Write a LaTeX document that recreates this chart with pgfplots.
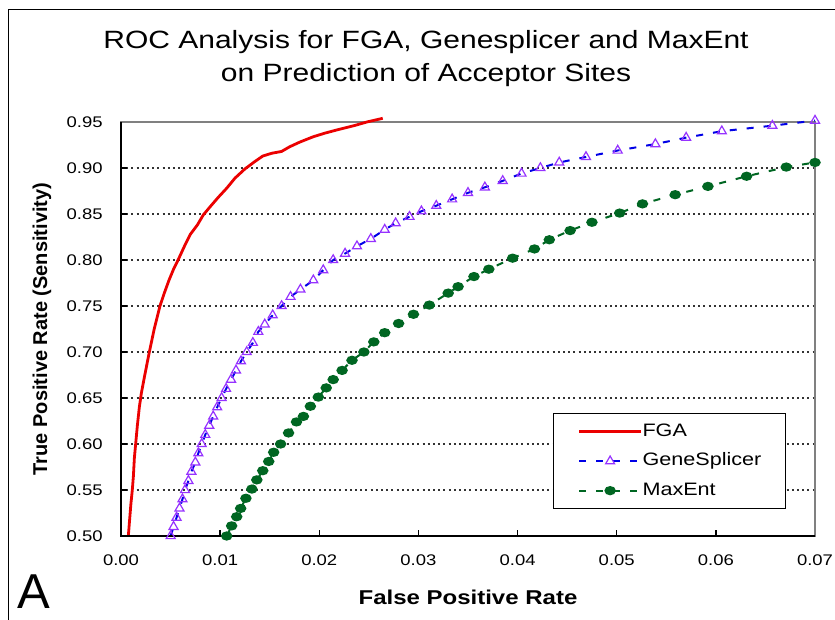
\documentclass[border=0pt]{standalone}
\usepackage{pgfplots}
\pgfplotsset{compat=1.18}
\usepackage{pgfplotstable}
\usepackage{fontspec}
\setmainfont{Liberation Sans}[FakeStretch=1.2]
\newfontfamily\plainsans{Liberation Sans}

\definecolor{fgared}{RGB}{235,0,0}
\definecolor{gsblue}{RGB}{0,0,230}
\definecolor{gspurple}{RGB}{150,50,255}
\definecolor{megreen}{RGB}{0,102,34}
\definecolor{boxgray}{RGB}{128,128,128}

\pgfplotstableread{
x y
0.00074 0.500
0.00085 0.515
0.00100 0.535
0.00114 0.550
0.00125 0.565
0.00135 0.585
0.00148 0.600
0.00165 0.620
0.00185 0.640
0.00205 0.655
0.00240 0.675
0.00286 0.700
0.00335 0.725
0.00393 0.750
0.00440 0.765
0.00484 0.778
0.00530 0.790
0.00580 0.801
0.00640 0.815
0.00700 0.828
0.00770 0.838
0.00830 0.849
0.00900 0.858
0.00980 0.868
0.01066 0.878
0.01150 0.889
0.01250 0.899
0.01350 0.907
0.01430 0.913
0.01520 0.916
0.01620 0.918
0.01700 0.923
0.01800 0.928
0.01940 0.934
0.02060 0.938
0.02200 0.942
0.02350 0.946
0.02480 0.950
0.02640 0.954
}\fga

\pgfplotstableread{
x y
0.00501 0.500
0.00530 0.510
0.00560 0.520
0.00590 0.530
0.00620 0.540
0.00646 0.550
0.00680 0.560
0.00710 0.570
0.00750 0.580
0.00780 0.590
0.00814 0.600
0.00850 0.610
0.00890 0.620
0.00930 0.630
0.00970 0.640
0.01015 0.650
0.01060 0.660
0.01110 0.670
0.01160 0.680
0.01210 0.690
0.01268 0.700
0.01330 0.710
0.01385 0.722
0.01450 0.730
0.01530 0.740
0.01620 0.750
0.01710 0.760
0.01810 0.768
0.01940 0.778
0.02040 0.789
0.02140 0.800
0.02260 0.807
0.02380 0.815
0.02520 0.823
0.02660 0.833
0.02770 0.840
0.02910 0.847
0.03030 0.853
0.03180 0.859
0.03340 0.866
0.03500 0.873
0.03670 0.879
0.03850 0.886
0.04040 0.894
0.04230 0.900
0.04420 0.906
0.04690 0.912
0.05010 0.919
0.05390 0.926
0.05700 0.933
0.06060 0.940
0.06570 0.946
0.07000 0.9515
}\gs

\pgfplotstableread{
x y
0.01066 0.500
0.01116 0.511
0.01167 0.521
0.01207 0.530
0.01260 0.541
0.01320 0.551
0.01370 0.561
0.01430 0.571
0.01490 0.581
0.01540 0.591
0.01610 0.600
0.01690 0.612
0.01770 0.624
0.01840 0.630
0.01910 0.641
0.01990 0.651
0.02070 0.661
0.02140 0.670
0.02230 0.680
0.02330 0.691
0.02450 0.700
0.02550 0.711
0.02660 0.721
0.02800 0.731
0.02950 0.741
0.03110 0.751
0.03300 0.764
0.03400 0.771
0.03560 0.782
0.03710 0.790
0.03950 0.802
0.04170 0.812
0.04320 0.822
0.04530 0.832
0.04750 0.841
0.05030 0.851
0.05260 0.861
0.05590 0.871
0.05920 0.880
0.06310 0.891
0.06710 0.901
0.07000 0.906
}\me

\begin{document}
\begin{tikzpicture}
\begin{axis}[
  scale only axis,
  width=347pt, height=207pt,
  xmin=0, xmax=0.07, ymin=0.5, ymax=0.95,
  xtick={0,0.01,0.02,0.03,0.04,0.05,0.06,0.07},
  ytick={0.5,0.55,0.6,0.65,0.7,0.75,0.8,0.85,0.9,0.95},
  scaled x ticks=false, scaled y ticks=false,
  /pgf/number format/.cd, fixed, fixed zerofill, precision=2, assume math mode=true,
  /pgfplots/.cd,
  tick pos=left,
  tick align=inside,
  major tick length=3pt,
  tick style={black, line width=0.7pt},
  ymajorgrids,
  grid style={black!80, line width=0.6pt, dash pattern=on 1pt off 1.6pt},
  axis line style={boxgray, line width=0.8pt},
  ticklabel style={font=\fontsize{7.7pt}{9pt}\selectfont},
  xticklabel style={anchor=base, inner sep=0pt, yshift=-14.5pt},
  yticklabel style={anchor=east, inner sep=0pt, xshift=-9pt},
  xlabel={\bfseries False Positive Rate},
  ylabel={\plainsans\bfseries True Positive Rate (Sensitivity)},
  label style={font=\fontsize{10pt}{12pt}\selectfont},
  xlabel style={at={(rel axis cs:0.5,-0.1473)}, anchor=center},
  ylabel style={at={(rel axis cs:-0.1138,0.5)}, anchor=center},
  clip=false,
  legend image code/.code={\draw[mark repeat=2,mark phase=2,#1] plot coordinates {(0pt,0pt) (15.5pt,0pt) (31pt,0pt)};},
  legend cell align=left,
  legend style={
    at={(rel axis cs:0.6225,0.297)}, anchor=north west,
    draw=black, line width=0.7pt, fill=white,
    font=\fontsize{9pt}{10pt}\selectfont,
    inner xsep=12pt, inner ysep=4.9pt,
    nodes={inner sep=0pt, text height=6.5pt, text depth=1.8pt},
    row sep=6.4pt,
    /tikz/every even column/.append style={column sep=2pt},
  },
]
\addplot[fgared, line width=1.4pt, no marks, line join=round] table[x=x,y=y]{\fga};
\addlegendentry{FGA}
\addplot[gsblue, line width=1pt, dash pattern=on 3.5pt off 5pt,
  mark=triangle, mark size=2.6pt,
  mark options={solid, draw=gspurple, line width=0.6pt}] table[x=x,y=y]{\gs};
\addlegendentry{GeneSplicer}
\addplot[megreen, line width=1pt, dash pattern=on 3.5pt off 5pt,
  mark=*, mark size=1.8pt,
  mark options={solid, fill=megreen, draw=megreen, xscale=1.3}] table[x=x,y=y]{\me};
\addlegendentry{MaxEnt}
\draw[black, line width=0.8pt] (rel axis cs:0,1) -- (rel axis cs:0,0) -- (rel axis cs:1,0);
\node[anchor=base, font=\fontsize{12.5pt}{15pt}\selectfont] at (rel axis cs:0.4395,1.1787) {ROC Analysis for FGA, Genesplicer and MaxEnt};
\node[anchor=base, font=\fontsize{12.5pt}{15pt}\selectfont] at (rel axis cs:0.4395,1.0966) {on Prediction of Acceptor Sites};
\node[anchor=base west, inner sep=0pt, font=\fontsize{24.5pt}{28pt}\plainsans] at (rel axis cs:-0.1499,-0.1739) {A};
\draw[black, line width=0.5pt] (rel axis cs:-0.1628,-0.3) -- (rel axis cs:-0.1628,1.2729) -- (rel axis cs:1.1,1.2729);
\coordinate (BL) at (rel axis cs:-0.17435,-0.2005);
\coordinate (TR) at (rel axis cs:1.0288,1.2947);
\end{axis}
\pgfresetboundingbox
\useasboundingbox (BL) rectangle (TR);
\end{tikzpicture}
\end{document}
